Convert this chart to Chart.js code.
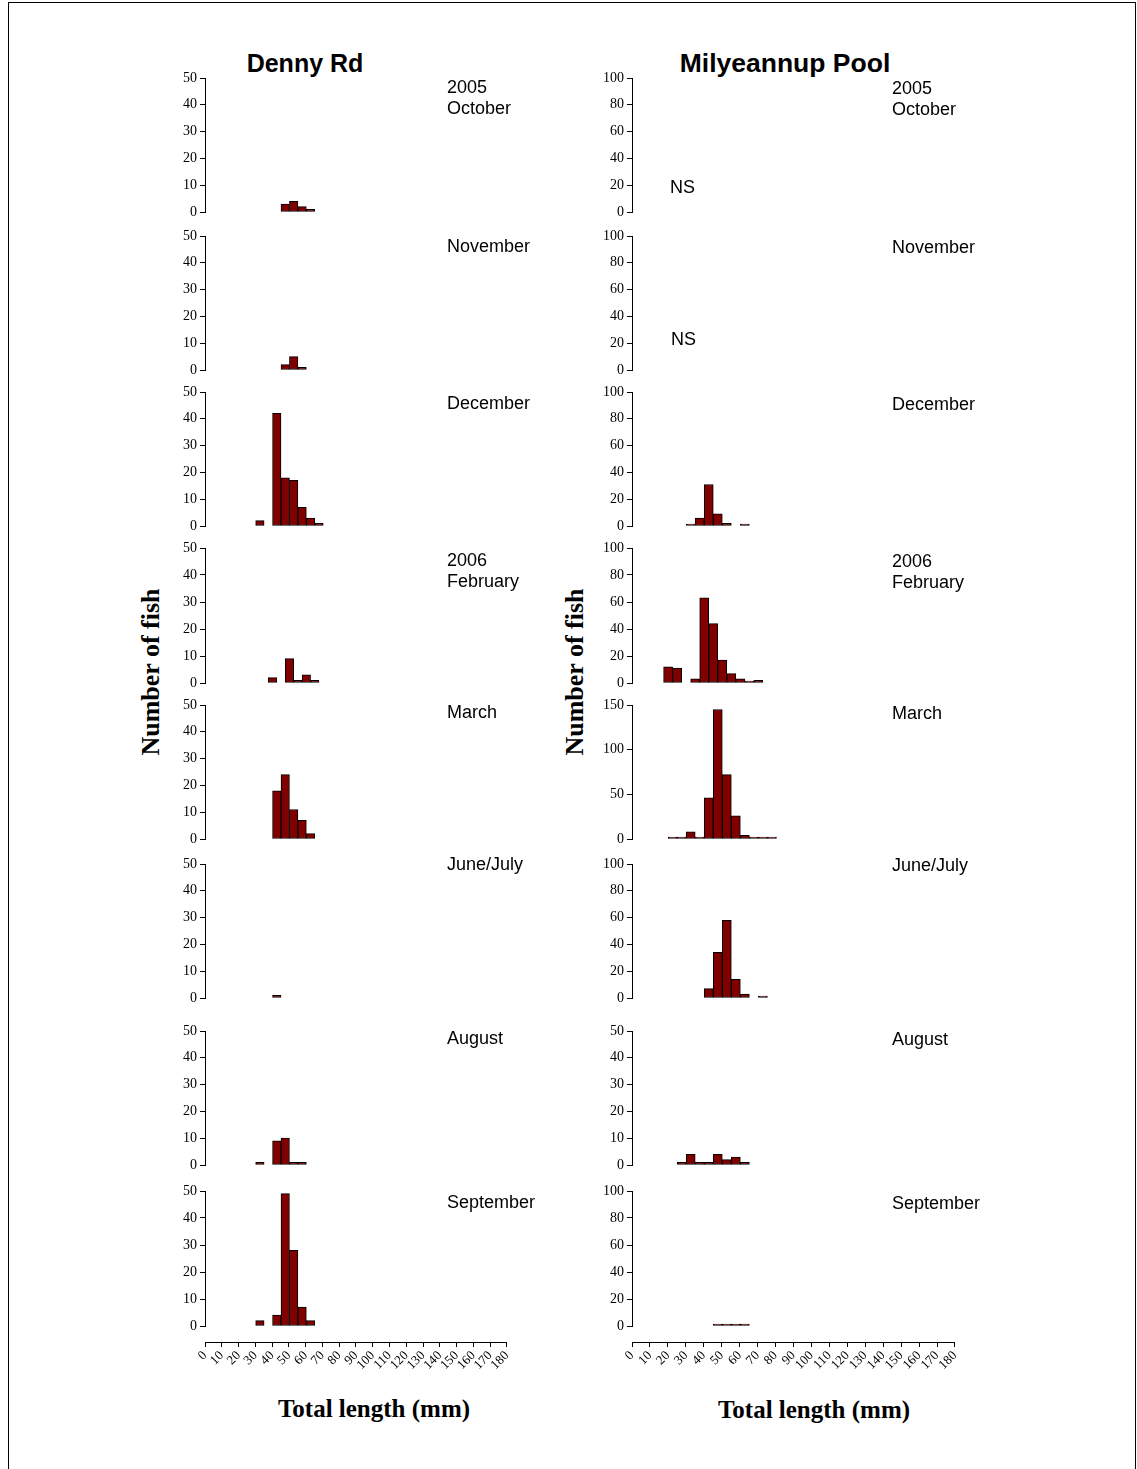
<!DOCTYPE html>
<html>
<head>
<meta charset="utf-8">
<script src="https://cdn.jsdelivr.net/npm/chart.js@4.4.1/dist/chart.umd.min.js"></script>
<style>
body { margin: 0; background: #fff; width: 1137px; height: 1469px; position: relative; overflow: hidden; }
.frame { position: absolute; left: 8px; top: 2px; width: 1126px; height: 1490px; border: 1px solid #000; }
canvas { position: absolute; }
.lbl { position: absolute; white-space: nowrap; color: #000; font-family: "Liberation Sans", Arial, sans-serif; font-size: 18px; line-height: 21px; }
.head { position: absolute; white-space: nowrap; font-family: "Liberation Sans", Arial, sans-serif; font-weight: bold; font-size: 25px; transform: translate(-50%, -50%); }
.axt { position: absolute; white-space: nowrap; font-family: "Liberation Serif", "Times New Roman", serif; font-weight: bold; font-size: 25px; }
</style>
</head>
<body>
<div class="frame"></div>
<div class="head" style="left:305px; top:63px;">Denny Rd</div>
<div class="head" style="left:785px; top:63px; font-size:26.5px;">Milyeannup Pool</div>
<div class="axt" style="left:151px; top:672px; font-size:26px; transform: translate(-50%, -50%) rotate(-90deg);">Number of fish</div>
<div class="axt" style="left:575px; top:672px; font-size:26px; transform: translate(-50%, -50%) rotate(-90deg);">Number of fish</div>
<div class="axt" style="left:374px; top:1409px; transform: translate(-50%, -50%);">Total length (mm)</div>
<div class="axt" style="left:814px; top:1410px; transform: translate(-50%, -50%);">Total length (mm)</div>

<script>
// sampling occasions, top to bottom
const monthLabels = [['2005', 'October'], ['November'], ['December'], ['2006', 'February'],
                     ['March'], ['June/July'], ['August'], ['September']];

// Denny Rd: length class centres (mm) and number of fish
const dennyLengths = [
    [47.5, 52.5, 57.5, 62.5],
    [47.5, 52.5, 57.5],
    [32.5, 42.5, 47.5, 52.5, 57.5, 62.5, 67.5],
    [40, 50, 55, 60, 65],
    [42.5, 47.5, 52.5, 57.5, 62.5],
    [42.5],
    [32.5, 42.5, 47.5, 52.5, 57.5],
    [32.5, 42.5, 47.5, 52.5, 57.5, 62.5]
];
const dennyCounts = [
    [3, 4, 2, 1],
    [2, 5, 1],
    [2, 42, 18, 17, 7, 3, 1],
    [2, 9, 1, 3, 1],
    [18, 24, 11, 7, 2],
    [1],
    [1, 9, 10, 1, 1],
    [2, 4, 49, 28, 7, 2]
];
const dennyMax = [50, 50, 50, 50, 50, 50, 50, 50];
const dennyStep = [10, 10, 10, 10, 10, 10, 10, 10];

// Milyeannup Pool (Oct and Nov not sampled)
const milLengths = [
    [],
    [],
    [32.5, 37.5, 42.5, 47.5, 52.5, 62.5],
    [20, 25, 35, 40, 45, 50, 55, 60, 65, 70],
    [22.5, 27.5, 32.5, 37.5, 42.5, 47.5, 52.5, 57.5, 62.5, 67.5, 72.5, 77.5],
    [42.5, 47.5, 52.5, 57.5, 62.5, 72.5],
    [27.5, 32.5, 37.5, 42.5, 47.5, 52.5, 57.5, 62.5],
    [47.5, 52.5, 57.5, 62.5]
];
const milCounts = [
    [],
    [],
    [1, 6, 31, 9, 2, 1],
    [12, 11, 3, 63, 44, 17, 7, 3, 1, 2],
    [1, 2, 8, 1, 46, 145, 72, 26, 4, 2, 1, 1],
    [7, 34, 58, 14, 3, 1],
    [1, 4, 1, 1, 4, 2, 3, 1],
    [1, 1, 1, 1]
];
const milMax = [100, 100, 100, 100, 150, 100, 50, 100];
const milStep = [20, 20, 20, 20, 50, 20, 10, 20];
const milNote = ['NS', 'NS', '', '', '', '', '', ''];

const xTicksMax = 180;

// layout (pixels)
const rowTops = [78, 236, 392, 548, 705, 864, 1031, 1191];
const rowZeros = [212, 370, 526, 683, 839, 998, 1165, 1326];
const labelY = [77, 236, 393, 550, 702, 854, 1028, 1192];
const noteY = [177, 329];
const cols = [
    { axisX: 205, plotW: 304, labelX: 447 },
    { axisX: 632, plotW: 325, labelX: 892 }
];
const pad = 15;

Chart.defaults.color = '#000';
Chart.defaults.animation = false;

function binPoints(lengths, counts) {
    const pts = [];
    if (!lengths.length) return pts;
    const phase = lengths[0] % 5;
    for (let x = phase; x <= xTicksMax; x += 5) {
        const i = lengths.indexOf(x);
        pts.push({ x: x, y: i >= 0 ? counts[i] : null });
    }
    return pts;
}

function addCanvas(left, top, w, h) {
    const c = document.createElement('canvas');
    c.width = w;
    c.height = h;
    c.style.left = left + 'px';
    c.style.top = top + 'px';
    c.style.width = w + 'px';
    c.style.height = h + 'px';
    document.body.appendChild(c);
    return c;
}

function addText(cls, html, left, top) {
    const d = document.createElement('div');
    d.className = cls;
    d.innerHTML = html;
    d.style.left = left + 'px';
    d.style.top = top + 'px';
    document.body.appendChild(d);
}

function makePanel(col, row, lengths, counts, yMax, yStep) {
    const top = rowTops[row] - pad;
    const h = rowZeros[row] - rowTops[row] + 2 * pad;
    const w = 50 + col.plotW + 10;
    const ctx = addCanvas(col.axisX - 50, top, w, h);
    new Chart(ctx, {
        type: 'bar',
        data: {
            datasets: [{
                data: binPoints(lengths, counts),
                backgroundColor: '#800000',
                borderColor: '#000',
                borderWidth: 1,
                borderSkipped: false,
                barPercentage: 1,
                categoryPercentage: 1,
                minBarLength: 2
            }]
        },
        options: {
            responsive: false,
            layout: { padding: { top: pad, bottom: pad, left: 0, right: 10 } },
            plugins: { legend: { display: false }, tooltip: { enabled: false } },
            scales: {
                x: { type: 'linear', min: 0, max: xTicksMax, offset: false, display: false,
                     grid: { offset: false } },
                y: {
                    min: 0, max: yMax,
                    afterFit: function(scale) { scale.width = 50; },
                    ticks: { stepSize: yStep, padding: 3,
                             font: { family: 'Liberation Serif', size: 14 } },
                    grid: { drawOnChartArea: false, tickLength: 5, color: '#000' },
                    border: { color: '#000', width: 1 }
                }
            }
        }
    });
}

function makeXAxis(col) {
    const w = 50 + col.plotW + 10;
    const ctx = addCanvas(col.axisX - 50, 1322, w, 60);
    new Chart(ctx, {
        type: 'bar',
        data: { datasets: [] },
        options: {
            responsive: false,
            layout: { padding: { top: 10, bottom: 0, left: 50, right: 10 } },
            plugins: { legend: { display: false }, tooltip: { enabled: false } },
            scales: {
                x: {
                    type: 'linear', min: 0, max: xTicksMax, offset: false,
                    afterFit: function(scale) { scale.height = 40; },
                    ticks: { stepSize: 10, autoSkip: false, minRotation: 45, maxRotation: 45,
                             padding: 1, font: { family: 'Liberation Serif', size: 13 } },
                    grid: { drawOnChartArea: false, tickLength: 5, color: '#000', offset: false },
                    border: { color: '#000', width: 1 }
                },
                y: { display: false, min: 0, max: 1 }
            }
        }
    });
}

for (let r = 0; r < 8; r++) {
    makePanel(cols[0], r, dennyLengths[r], dennyCounts[r], dennyMax[r], dennyStep[r]);
    makePanel(cols[1], r, milLengths[r], milCounts[r], milMax[r], milStep[r]);
    addText('lbl', monthLabels[r].join('<br>'), cols[0].labelX, labelY[r]);
    addText('lbl', monthLabels[r].join('<br>'), cols[1].labelX, labelY[r] + 1);
    if (milNote[r]) {
        addText('lbl', milNote[r], 670 + r, noteY[r]);
    }
}
makeXAxis(cols[0]);
makeXAxis(cols[1]);
</script>
</body>
</html>
